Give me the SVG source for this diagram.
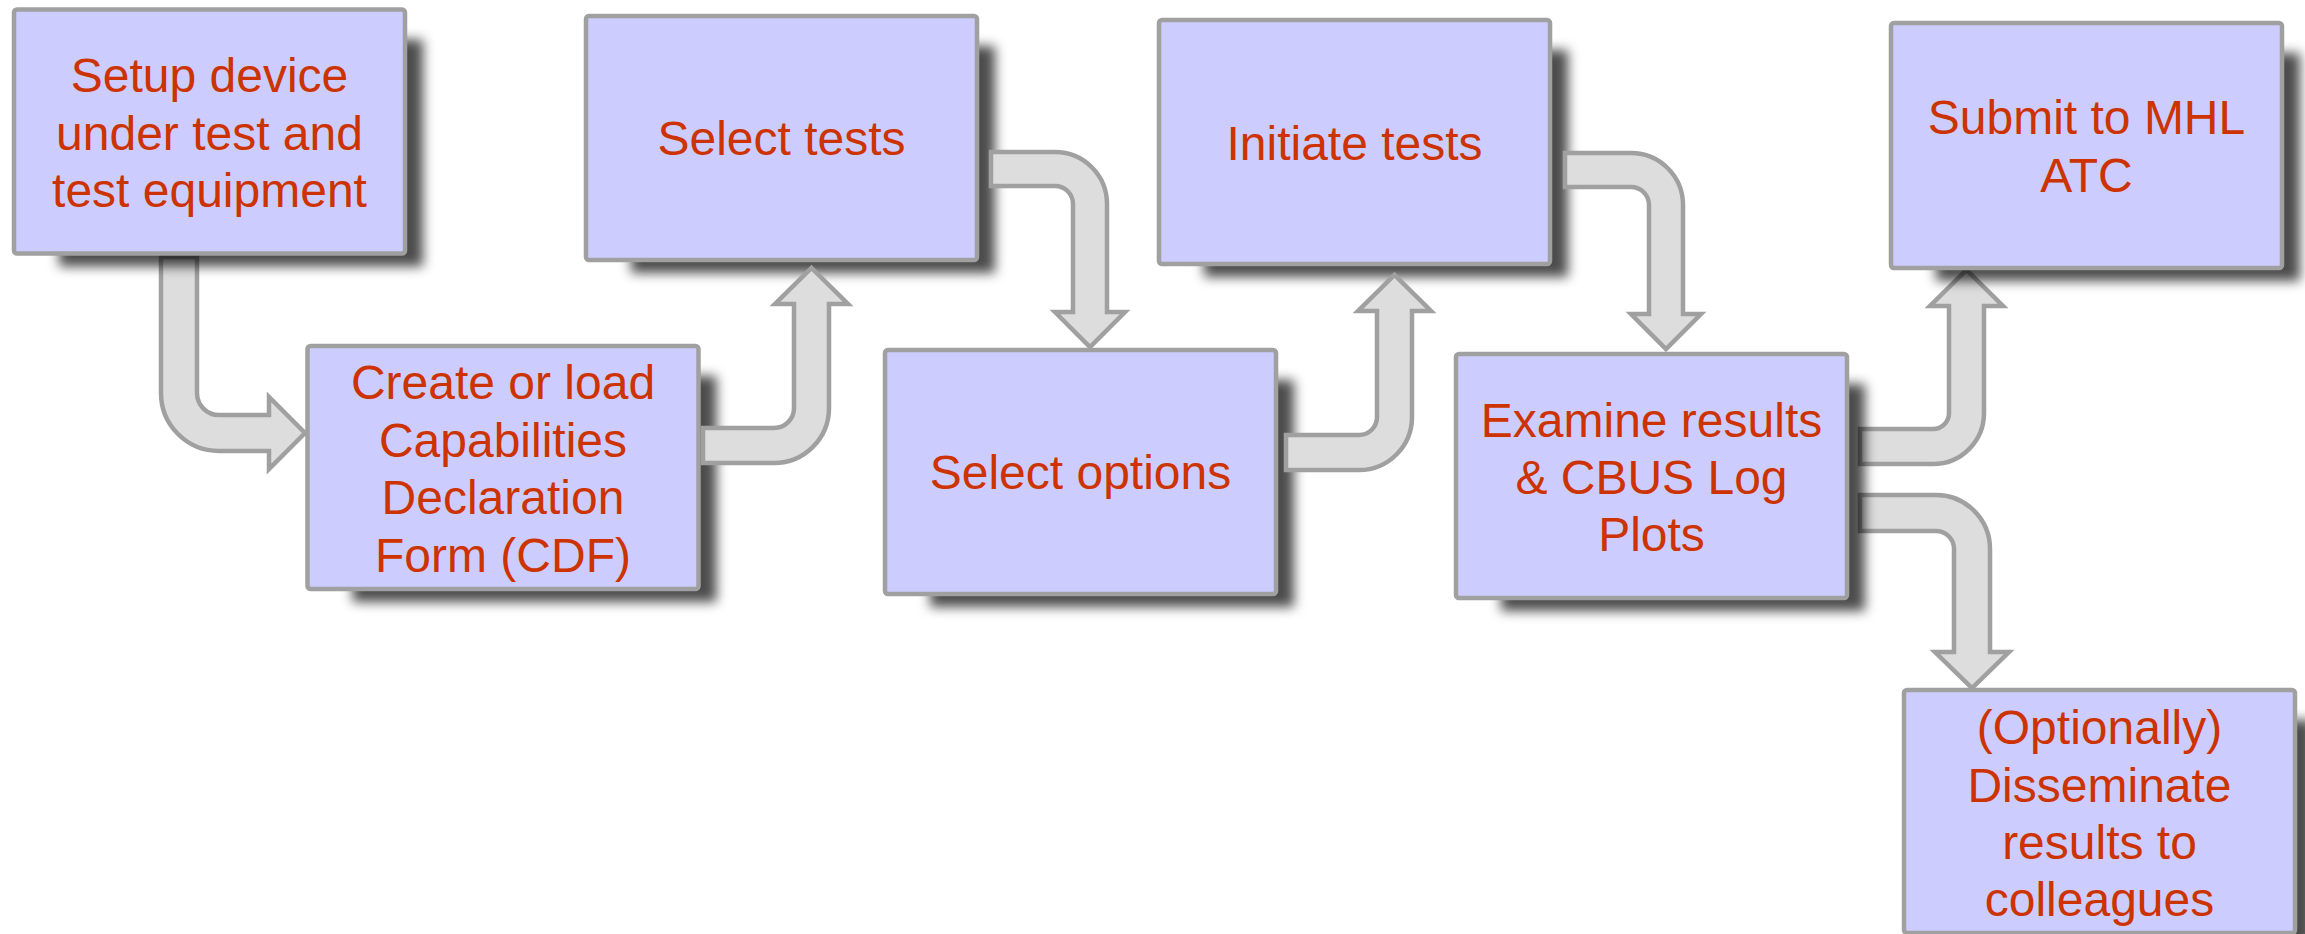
<svg xmlns="http://www.w3.org/2000/svg" width="2305" height="934" viewBox="0 0 2305 934">
<style>
.box{fill:#ccccff;stroke:#a0a0a0;stroke-width:4.5}
.shadow{fill:#000;fill-opacity:0.7;filter:url(#blur)}
.lbl{font-family:"Liberation Sans",Arial,sans-serif;font-size:48px;fill:#cc3300;text-anchor:middle}
.arrow{fill:#dddddd;stroke:#a0a0a0;stroke-width:4.5;stroke-linejoin:miter}
</style>
<defs>
<filter id="blur" x="-20%" y="-20%" width="140%" height="140%"><feGaussianBlur stdDeviation="6"/></filter>
</defs>
<rect width="2305" height="934" fill="#ffffff"/>

<g id="node-create-cdf">
<rect class="shadow" x="352.5" y="376" width="364" height="226"/>
<rect class="box" x="307.5" y="346" width="391" height="243" rx="3"/>
<text class="lbl" x="503" y="398.5">Create or load</text>
<text class="lbl" x="503" y="456.5">Capabilities</text>
<text class="lbl" x="503" y="514">Declaration</text>
<text class="lbl" x="503" y="572">Form (CDF)</text>
</g>
<g id="node-select-tests">
<rect class="shadow" x="631" y="46" width="364" height="227"/>
<rect class="box" x="586" y="16" width="391" height="244" rx="3"/>
<text class="lbl" x="781.5" y="155">Select tests</text>
</g>
<g id="node-select-options">
<rect class="shadow" x="930" y="380" width="364" height="227"/>
<rect class="box" x="885" y="350" width="391" height="244" rx="3"/>
<text class="lbl" x="1080.5" y="489">Select options</text>
</g>
<g id="node-initiate-tests">
<rect class="shadow" x="1204" y="50" width="364" height="227"/>
<rect class="box" x="1159" y="20" width="391" height="244" rx="3"/>
<text class="lbl" x="1354.5" y="159.5">Initiate tests</text>
</g>

<g id="connectors">
<path id="c1" class="arrow" d="M161,257 L197,257 L197,393 A22,22 0 0 0 219,415 L269,415 L269,397 L305,433 L269,469 L269,451 L219,451 A58,58 0 0 1 161,393 Z"/>
<path id="c2" class="arrow" d="M703,428 L774,428 A20,20 0 0 0 794,408 L794,304 L775,304 L811.5,268 L848,304 L829,304 L829,408 A55,55 0 0 1 774,463 L703,463 Z"/>
<path id="c3" class="arrow" d="M991,152 L1055,152 A52,52 0 0 1 1107,204 L1107,312 L1125,312 L1090,347 L1055,312 L1073,312 L1073,204 A18,18 0 0 0 1055,186 L991,186 Z"/>
<path id="c4" class="arrow" d="M1286,435 L1359,435 A18,18 0 0 0 1377,417 L1377,311 L1358,311 L1394.5,275 L1431,311 L1412,311 L1412,417 A53,53 0 0 1 1359,470 L1286,470 Z"/>
<path id="c5" class="arrow" d="M1565,153 L1631,153 A52,52 0 0 1 1683,205 L1683,314 L1701,314 L1666,349 L1631,314 L1649,314 L1649,205 A18,18 0 0 0 1631,187 L1565,187 Z"/>
<path id="c6" class="arrow" d="M1860,429 L1933,429 A16,16 0 0 0 1949,413 L1949,306 L1930,306 L1966.5,270 L2003,306 L1984,306 L1984,413 A51,51 0 0 1 1933,464 L1860,464 Z"/>
<path id="c7" class="arrow" d="M1860,495 L1936,495 A54,54 0 0 1 1990,549 L1990,652 L2009,652 L1972,688 L1935,652 L1954,652 L1954,549 A18,18 0 0 0 1936,531 L1860,531 Z"/>
</g>

<g id="node-setup">
<rect class="shadow" x="59" y="39.5" width="364" height="227"/>
<rect class="box" x="14" y="9.5" width="391" height="244" rx="3"/>
<text class="lbl" x="209.5" y="92">Setup device</text>
<text class="lbl" x="209.5" y="149.5">under test and</text>
<text class="lbl" x="209.5" y="207">test equipment</text>
</g>
<g id="node-examine">
<rect class="shadow" x="1501" y="384" width="364" height="227"/>
<rect class="box" x="1456" y="354" width="391" height="244" rx="3"/>
<text class="lbl" x="1651.5" y="436.5">Examine results</text>
<text class="lbl" x="1651.5" y="494">&amp; CBUS Log</text>
<text class="lbl" x="1651.5" y="551">Plots</text>
</g>
<g id="node-submit">
<rect class="shadow" x="1936" y="53" width="364" height="228"/>
<rect class="box" x="1891" y="23" width="391" height="245" rx="3"/>
<text class="lbl" x="2086.5" y="134">Submit to MHL</text>
<text class="lbl" x="2086.5" y="191.5">ATC</text>
</g>
<g id="node-disseminate">
<rect class="shadow" x="1949" y="720" width="364" height="226"/>
<rect class="box" x="1904" y="690" width="391" height="243" rx="3"/>
<text class="lbl" x="2099.5" y="744">(Optionally)</text>
<text class="lbl" x="2099.5" y="801.5">Disseminate</text>
<text class="lbl" x="2099.5" y="859">results to</text>
<text class="lbl" x="2099.5" y="916">colleagues</text>
</g>
</svg>
